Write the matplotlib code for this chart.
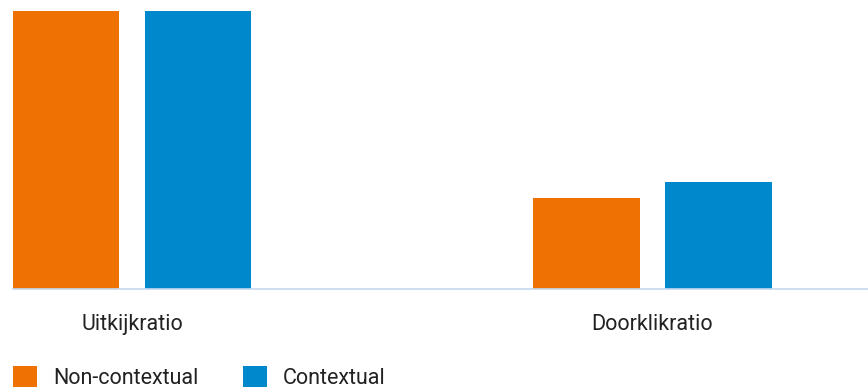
import matplotlib.pyplot as plt
import numpy as np

plt.rcParams['font.family'] = ['Roboto', 'DejaVu Sans']

# --- Data ---
categories = ["Uitkijkratio", "Doorklikratio"]
series_names = ["Non-contextual", "Contextual"]
non_contextual = [100, 32.7]
contextual = [100, 38.4]
colors = ["#ef7102", "#0088cc"]

# --- Plot ---
fig = plt.figure(figsize=(8.68, 3.88), dpi=100)
W, H = 868, 388
ax = fig.add_axes([13 / W, (H - 288.7) / H, 1 - 13 / W, (288.7 - 11) / H])

x = np.arange(len(categories))
width = 0.2037
offset = 0.1268
b1 = ax.bar(x - offset, non_contextual, width, color=colors[0], label=series_names[0])
b2 = ax.bar(x + offset, contextual, width, color=colors[1], label=series_names[1])

ax.set_xlim(-0.2286, 1.414)
ax.set_ylim(0, 100)
ax.set_yticks([])
ax.set_xticks(x)
ax.set_xticklabels(categories, fontsize=15.5, color="#222222")
ax.tick_params(axis="x", length=0, pad=18)
for s in ["top", "right", "left"]:
    ax.spines[s].set_visible(False)
ax.spines["bottom"].set_color("#c6d9ef")
ax.spines["bottom"].set_linewidth(1.2)

leg = fig.legend(handles=[b1, b2], loc="upper left", bbox_to_anchor=(13 / W, (H - 366) / H),
                 ncol=2, frameon=False, fontsize=15.5, handlelength=1.1, handleheight=1.1,
                 handletextpad=0.75, columnspacing=2.1, borderpad=0, borderaxespad=0)
for t in leg.get_texts():
    t.set_color("#222222")

fig.savefig("out.png", dpi=100)
